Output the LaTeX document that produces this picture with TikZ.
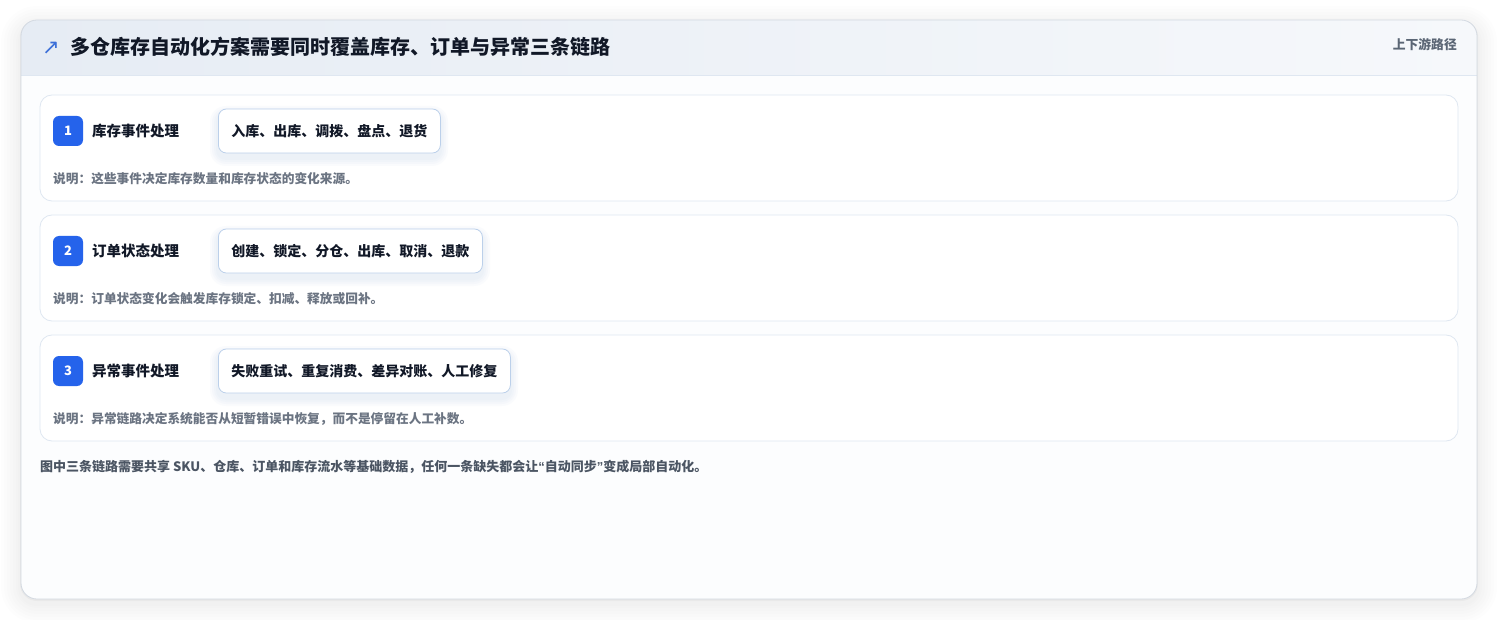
\documentclass[tikz,border=0pt]{standalone}
\usepackage{fontspec}
\setmainfont{Noto Sans CJK SC}
\newfontfamily\symfont{DejaVu Sans}
\newfontfamily\latfont{Liberation Sans}
\definecolor{badge}{HTML}{2563EB}
\definecolor{ink}{HTML}{111827}
\definecolor{notegray}{HTML}{6B7482}
\definecolor{footgray}{HTML}{4B5563}
\definecolor{headgray}{HTML}{5B6675}
\definecolor{cardline}{HTML}{DFE7F1}
\definecolor{chipline}{HTML}{BCD0EA}
\definecolor{outline}{HTML}{D3D9E1}
\definecolor{headL}{HTML}{E6ECF4}
\definecolor{headR}{HTML}{F6F8FB}
\definecolor{bodyfill}{HTML}{FCFDFE}
\definecolor{arrowblue}{HTML}{3B6FD8}
\tikzset{
  cjk/.style={inner sep=0pt, text height=1.1em, text depth=0em},
  rowcard/.style={draw=cardline, line width=0.8pt, fill=white, rounded corners=12pt},
  badgebox/.style={fill=badge, rounded corners=6pt, minimum width=30pt, minimum height=30pt, inner sep=0pt, text=white, font=\fontsize{13}{13}\selectfont\bfseries},
  rowlabel/.style={cjk, anchor=west, text=ink, font=\fontsize{14.5}{15}\selectfont\bfseries},
  chipbox/.style={draw=chipline, line width=0.8pt, fill=white, rounded corners=8pt, minimum height=44pt, inner xsep=13pt, inner ysep=0pt, anchor=west, text=ink, font=\fontsize{14}{14}\selectfont\bfseries, text height=1.1em, text depth=0em},
  notetext/.style={cjk, anchor=west, text=notegray, font=\fontsize{12.7}{13}\selectfont\bfseries},
}
\begin{document}
\begin{tikzpicture}[x=1pt,y=-1pt]
\useasboundingbox (0,0) rectangle (1498,620);
\fill[white] (0,0) rectangle (1498,620);
% outer shadow
\foreach \i in {20,17,14,11,8,5,3}{
  \fill[black, opacity=0.009, rounded corners=16pt+\i pt] (21-\i,20-\i+6) rectangle (1477+\i,599+\i+4);
}
\fill[black, opacity=0.03, rounded corners=17pt] (20,20) rectangle (1478,601);
% outer card
\begin{scope}
  \clip[rounded corners=16pt] (21,20) rectangle (1477,599);
  \fill[bodyfill] (21,20) rectangle (1477,599);
  \shade[left color=headL, right color=headR] (21,20) rectangle (1477,75);
\end{scope}
\draw[cardline, line width=0.8pt] (21,75) -- (1477,75);
\draw[outline, line width=0.8pt, rounded corners=16pt] (21,20) rectangle (1477,599);
% header
\node[inner sep=0pt, anchor=center, text=arrowblue, font=\symfont\fontsize{21}{21}\selectfont] (arr) at (51,48) {↗};
\node[cjk, anchor=west, text=ink, font=\fontsize{20}{20}\selectfont\bfseries] (title) at (70,49) {多仓库存自动化方案需要同时覆盖库存、订单与异常三条链路};
\node[cjk, anchor=east, text=headgray, font=\fontsize{12.8}{13}\selectfont\bfseries] (tag) at (1457,44) {上下游路径};
% rows
\foreach \n/\y/\w/\lab/\chip/\note in {
 1/95/222/库存事件处理/入库、出库、调拨、盘点、退货/说明：这些事件决定库存数量和库存状态的变化来源。,
 2/215/264/订单状态处理/创建、锁定、分仓、出库、取消、退款/说明：订单状态变化会触发库存锁定、扣减、释放或回补。,
 3/335/292/异常事件处理/失败重试、重复消费、差异对账、人工修复/说明：异常链路决定系统能否从短暂错误中恢复，而不是停留在人工补数。}{
  \draw[rowcard] (40,\y) rectangle (1458,\y+106);
  \node[badgebox] (b\n) at (68,\y+36) {\n};
  \node[rowlabel] (l\n) at (92,\y+36) {\lab};
  \foreach \s in {8,6,4,2}{
    \fill[chipline, opacity=0.07, rounded corners=8pt+\s pt] (218-\s,\y+14+5-\s) rectangle (218+\w+\s,\y+58+5+\s);
  }
  \node[chipbox] (c\n) at (218,\y+36) {\chip};
  \node[notetext] (n\n) at (53,\y+83) {\note};
}
% footer
\node[cjk, anchor=west, text=footgray, font=\fontsize{13}{13}\selectfont\bfseries] (foot) at (40,466) {图中三条链路需要共享 SKU、仓库、订单和库存流水等基础数据，任何一条缺失都会让{\latfont “}自动同步{\latfont ”}变成局部自动化。};
\end{tikzpicture}
\end{document}
